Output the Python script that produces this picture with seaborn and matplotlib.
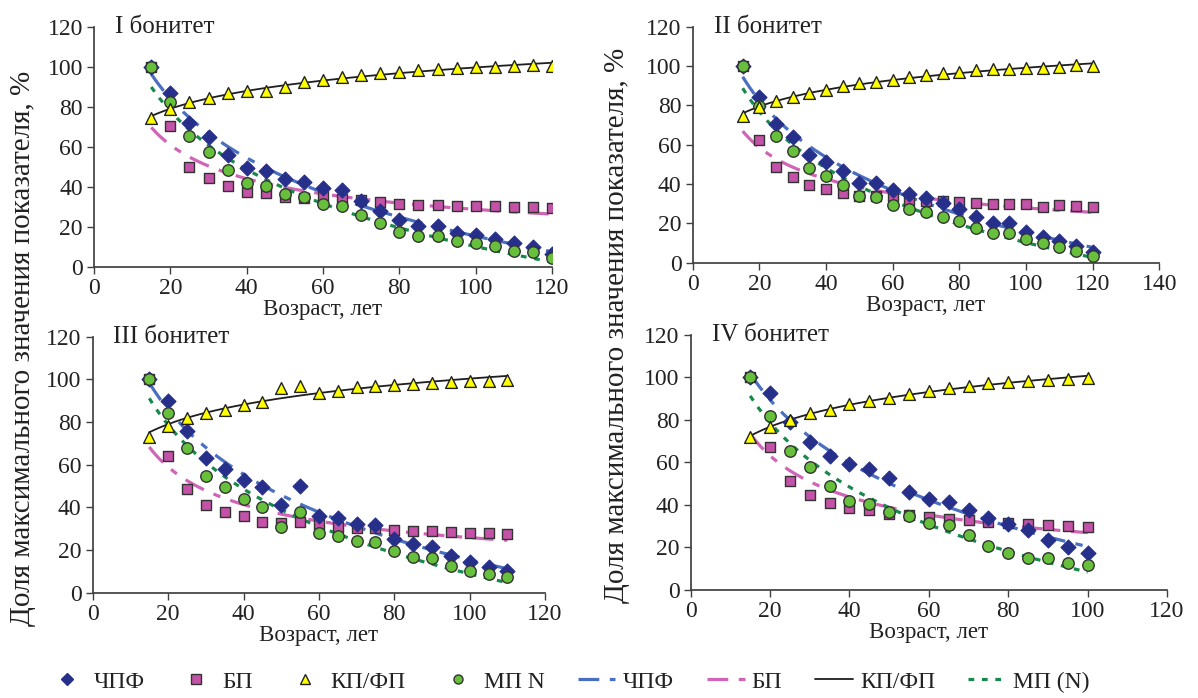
import numpy as np
import matplotlib
matplotlib.use("Agg")
import matplotlib.pyplot as plt
from matplotlib.lines import Line2D
import seaborn as sns

# --- data (% of maximum value) ---
panel_titles = ["I бонитет", "II бонитет", "III бонитет", "IV бонитет"]
x_limits = [120, 140, 120, 120]

age_1 = [15, 20, 25, 30, 35, 40, 45, 50, 55, 60, 65, 70, 75, 80, 85, 90, 95, 100, 105, 110, 115, 120]
chpf_1 = [100, 87, 72, 65, 55.7, 49.5, 48, 44, 42.5, 39.3, 38.4, 33, 27.8, 23.3, 20.5, 20.5, 17, 15.8, 13.7, 11.7, 10, 6.2]
bp_1 = [100, 70.3, 50, 44.3, 40.3, 37.5, 36.7, 35, 34.5, 35.3, 33.8, 33.2, 32.3, 31.3, 30.8, 30.8, 30.5, 30.3, 30.2, 29.7, 29.7, 29.5]
kp_1 = [74.5, 78.7, 82.5, 84.5, 86.7, 88, 88, 89.8, 92.5, 93.3, 94.7, 95.8, 97, 97.4, 98.3, 98.7, 99.2, 99.7, 100, 100.3, 100.7, 100.5]
mp_1 = [100, 82.2, 65.3, 57.3, 48.3, 42, 40.3, 36.2, 34.8, 31.3, 30.3, 25.7, 22, 17.5, 15.3, 15.3, 12.7, 11.7, 10.5, 7.8, 7.5, 4.2]

age_2 = [15, 20, 25, 30, 35, 40, 45, 50, 55, 60, 65, 70, 75, 80, 85, 90, 95, 100, 105, 110, 115, 120]
chpf_2 = [100, 84.1, 70.5, 64, 54.8, 51.4, 46.8, 40.7, 40.3, 37, 34.8, 32.7, 30.2, 27.1, 23.4, 20, 20, 15.8, 13.2, 11.2, 8.5, 5.6]
bp_2 = [100, 62.4, 48.5, 43.4, 39.3, 37.3, 35.6, 33.9, 33.9, 33.9, 31.9, 31.5, 31.5, 31, 30.5, 29.8, 29.8, 29.8, 28.5, 29.3, 29, 28.5]
kp_2 = [74.7, 79.3, 82.4, 84.4, 86.4, 87.8, 89.8, 91.2, 92, 92.9, 94.6, 95.4, 96.5, 97.1, 97.8, 98.4, 98.6, 98.8, 98.8, 99.3, 100.3, 100.2]
mp_2 = [100, 79.7, 64.4, 57, 48, 44.1, 39.5, 33.9, 33.2, 29.3, 27.3, 25.6, 23.4, 21.2, 17.7, 15.3, 15, 11.9, 9.9, 8.1, 5.9, 3.6]

age_3 = [15, 20, 25, 30, 35, 40, 45, 50, 55, 60, 65, 70, 75, 80, 85, 90, 95, 100, 105, 110]
chpf_3 = [100, 90, 76, 63, 57.8, 52.8, 49.4, 41.1, 50.2, 36, 34.9, 32.2, 31.5, 25.2, 22.8, 21.6, 17.2, 14.5, 12.2, 10.2]
bp_3 = [100, 64.2, 48.6, 41.1, 38, 36, 33, 32.5, 33.3, 32.2, 30.9, 30.2, 30.2, 29.4, 29.1, 29.1, 28.3, 28.2, 27.8, 27.5]
kp_3 = [73.1, 78.3, 81.8, 84.1, 85.7, 88, 89.5, 95.8, 97, 93.8, 94.7, 96.2, 96.9, 97.4, 97.8, 98.2, 98.8, 99.4, 99.4, 99.7]
mp_3 = [100, 84.1, 67.7, 54.9, 49.4, 43.8, 40.3, 30.9, 38, 27.8, 26.7, 24.4, 23.8, 19.4, 16.9, 16.4, 12.5, 10.2, 8.6, 7.2]

age_4 = [15, 20, 25, 30, 35, 40, 45, 50, 55, 60, 65, 70, 75, 80, 85, 90, 95, 100]
chpf_4 = [100, 92.5, 79.1, 69.7, 63, 59.2, 56.7, 52.5, 45.9, 42.6, 41.5, 37.6, 33.7, 31, 28.2, 23.5, 20.1, 17.5]
bp_4 = [100, 67.1, 51.2, 44.7, 41, 38.7, 37.6, 35.7, 35.3, 34.5, 33.4, 32.9, 31.8, 31.6, 31, 30.6, 30.2, 29.8]
kp_4 = [72.1, 76.5, 79.9, 83.4, 84.6, 87.3, 88.9, 90.4, 92.1, 93.7, 94.8, 96, 97.2, 97.6, 98.3, 98.7, 99.2, 99.8]
mp_4 = [100, 81.8, 65.3, 58, 48.9, 42, 40.4, 36.5, 34.9, 31.6, 30.6, 25.8, 20.8, 17.5, 14.9, 14.9, 12.5, 11.8]

panels = [
    (age_1, chpf_1, bp_1, kp_1, mp_1),
    (age_2, chpf_2, bp_2, kp_2, mp_2),
    (age_3, chpf_3, bp_3, kp_3, mp_3),
    (age_4, chpf_4, bp_4, kp_4, mp_4),
]

# --- styles ---
C_CHPF, C_BP, C_KP, C_MP = "#262f8a", "#c452a8", "#ffff00", "#66c03c"
T_CHPF, T_BP, T_KP, T_MP = "#4a6fc0", "#d065b5", "#1e1e1e", "#17894a"
DASH_LONG = (0, (6.5, 3.3, 2.3, 3.3))
DASH_SHORT = (0, (1.8, 2.4))
TXT = "#222222"

sns.set_theme(style="ticks")
plt.rcParams["font.family"] = ["Liberation Serif", "DejaVu Serif"]
plt.rcParams["axes.edgecolor"] = "#404040"

fig = plt.figure(figsize=(11.98, 6.98), dpi=100)
boxes = [
    [0.0785, 0.6179, 0.3823, 0.3438],
    [0.5782, 0.6236, 0.3895, 0.3381],
    [0.0774, 0.1509, 0.3776, 0.3668],
    [0.5765, 0.1547, 0.3977, 0.3656],
]


def log_trend(age, vals):
    # Excel-style logarithmic trendline
    b, a = np.polyfit(np.log(age), vals, 1)
    xs = np.linspace(min(age), max(age), 200)
    return xs, a + b * np.log(xs)


def power_trend(age, vals):
    # Excel-style power trendline
    b, a = np.polyfit(np.log(age), np.log(vals), 1)
    xs = np.linspace(min(age), max(age), 200)
    return xs, np.exp(a) * xs ** b


for i, (age, chpf, bp, kp, mp) in enumerate(panels):
    ax = fig.add_axes(boxes[i])

    # trend lines
    xs, ys = log_trend(age, chpf)
    sns.lineplot(x=xs, y=ys, ax=ax, color=T_CHPF, linewidth=2.3, linestyle=DASH_LONG, zorder=2)
    xs, ys = power_trend(age, bp)
    sns.lineplot(x=xs, y=ys, ax=ax, color=T_BP, linewidth=2.3, linestyle=DASH_LONG, zorder=2)
    xs, ys = log_trend(age, kp)
    sns.lineplot(x=xs, y=ys, ax=ax, color=T_KP, linewidth=1.3, zorder=2)
    xs, ys = log_trend(age, mp)
    sns.lineplot(x=xs, y=ys, ax=ax, color=T_MP, linewidth=2.3, linestyle=DASH_SHORT, zorder=2)

    # observed points
    sns.scatterplot(x=age, y=bp, ax=ax, marker="s", s=62, color=C_BP, edgecolor="#333333", linewidth=1.0, zorder=3)
    sns.scatterplot(x=age, y=chpf, ax=ax, marker="D", s=58, color=C_CHPF, edgecolor=C_CHPF, linewidth=0.8, zorder=4)
    sns.scatterplot(x=age, y=mp, ax=ax, marker="o", s=68, color=C_MP, edgecolor="#333333", linewidth=1.0, zorder=5)
    sns.scatterplot(x=age, y=kp, ax=ax, marker="^", s=72, color=C_KP, edgecolor="#222222", linewidth=1.0, zorder=6)

    ax.set_xlim(0, x_limits[i])
    ax.set_ylim(0, 120)
    ax.set_xticks(np.arange(0, x_limits[i] + 1, 20))
    ax.set_yticks(np.arange(0, 121, 20))
    ax.tick_params(axis="both", labelsize=17, length=5, width=1.0, colors="#404040",
                   labelcolor=TXT, pad=3)
    ax.set_xlabel("Возраст, лет", fontsize=16.5, color=TXT, labelpad=0)
    ax.set_ylabel("")
    ax.text(0.045, 1.0, panel_titles[i], transform=ax.transAxes, fontsize=18,
            color=TXT, va="center", ha="left")
    sns.despine(ax=ax)

fig.text(0.019, 0.501, "Доля максимального значения показателя, %", rotation=90,
         fontsize=21, color=TXT, ha="center", va="center")
fig.text(0.515, 0.534, "Доля максимального значения показателя, %", rotation=90,
         fontsize=21, color=TXT, ha="center", va="center")

handles = [
    Line2D([], [], ls="none", marker="D", ms=6, color=C_CHPF, mec=C_CHPF),
    Line2D([], [], ls="none", marker="s", ms=6.5, color=C_BP, mec="#333333"),
    Line2D([], [], ls="none", marker="^", ms=6.5, color=C_KP, mec="#222222"),
    Line2D([], [], ls="none", marker="o", ms=6.5, color=C_MP, mec="#333333"),
    Line2D([], [], color=T_CHPF, lw=2.3, ls=DASH_LONG),
    Line2D([], [], color=T_BP, lw=2.3, ls=DASH_LONG),
    Line2D([], [], color=T_KP, lw=1.3),
    Line2D([], [], color=T_MP, lw=2.3, ls=DASH_SHORT),
]
labels = ["ЧПФ", "БП", "КП/ФП", "МП N", "ЧПФ", "БП", "КП/ФП", "МП (N)"]
fig.legend(handles, labels, loc="center", bbox_to_anchor=(0.475, 0.023), ncol=8,
           frameon=False, fontsize=17, handlelength=1.6, handletextpad=0.3,
           columnspacing=1.4, labelcolor=TXT)

fig.savefig("out.png", dpi=100)
